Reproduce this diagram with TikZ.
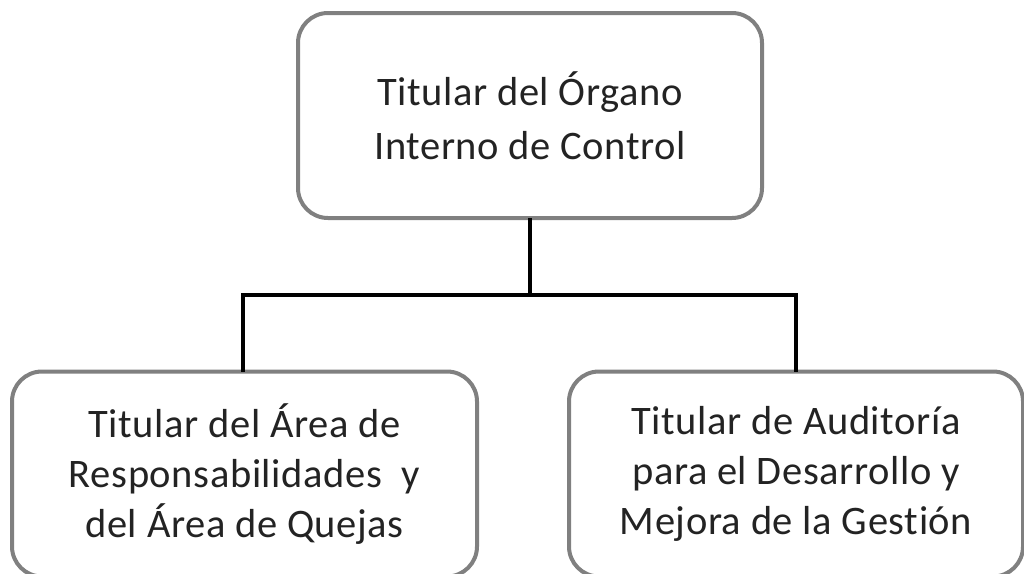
\documentclass[tikz,border=0pt]{standalone}
\usepackage{fontspec}
\setmainfont{Carlito}[Ligatures=NoCommon,LetterSpace=1.5]
\begin{document}
\begin{tikzpicture}[x=1pt,y=1pt,
  orgbox/.style={draw=boxgray, line width=4pt, rounded corners=30pt, fill=white,
    inner sep=0pt, outer sep=0pt, align=center, text=textgray},
  topfont/.style={font=\fontsize{40.5}{54}\selectfont},
  lowfont/.style={font=\fontsize{40.5}{50}\selectfont},
  link/.style={draw=black, line width=4.5pt}]
\definecolor{boxgray}{RGB}{128,128,128}
\definecolor{textgray}{RGB}{35,35,35}
\useasboundingbox (0,0) rectangle (1024,-573);
\clip (0,0) rectangle (1024,-573);
\node[orgbox, topfont, minimum width=464pt, minimum height=205pt] (top) at (530,-115.5)
  {Titular del Órgano\\Interno de Control};
\node[orgbox, lowfont, minimum width=465pt, minimum height=205pt] (bl) at (244.5,-474)
  {Titular del Área de\\Responsabilidades\ \ y\\del Área de Quejas};
\node[orgbox, lowfont, minimum width=454pt, minimum height=205pt] (br) at (796,-474)
  {Titular de Auditoría\\para el Desarrollo y\\Mejora de la Gestión};
\coordinate (j) at (530,-295);
\draw[link] (top.south) -- (j);
\draw[link] ([xshift=-1.5pt]bl.north) |- (j) -| (br.north);
\end{tikzpicture}
\end{document}
